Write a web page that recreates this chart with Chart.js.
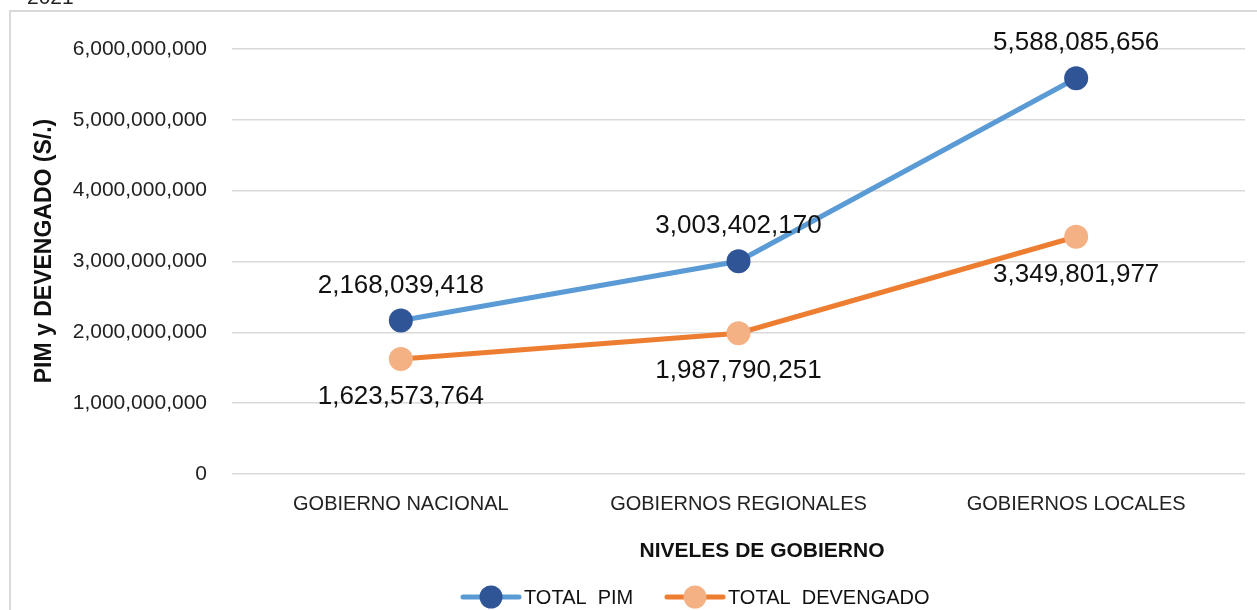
<!DOCTYPE html>
<html lang="es">
<head>
<meta charset="utf-8">
<title>PIM y Devengado por nivel de gobierno</title>
<script src="https://cdn.jsdelivr.net/npm/chart.js@4.4.1/dist/chart.umd.min.js"></script>
<style>
  html, body { margin: 0; padding: 0; background: #fff; }
  #wrap { width: 1257px; height: 610px; position: relative; overflow: hidden; }
</style>
</head>
<body>
<div id="wrap"><canvas id="nivelesChart" width="1257" height="610"></canvas></div>
<script>
// ---- Data ----
const niveles = ["GOBIERNO NACIONAL", "GOBIERNOS REGIONALES", "GOBIERNOS LOCALES"];
const totalPim = [2168039418, 3003402170, 5588085656];
const totalDevengado = [1623573764, 1987790251, 3349801977];
const yTicks = [0, 1000000000, 2000000000, 3000000000, 4000000000, 5000000000, 6000000000];

const FONT = "'Liberation Sans', Arial, sans-serif";
const fmt = n => n.toLocaleString("en-US");

// ---- Extra drawing: frame, year, value labels, legend, x title ----
const decorations = {
  id: "decorations",
  beforeDraw(chart) {
    const ctx = chart.ctx;
    ctx.save();
    ctx.strokeStyle = "#d9d9d9";
    ctx.lineWidth = 2;
    ctx.beginPath();
    ctx.moveTo(10, 620);
    ctx.lineTo(10, 11);
    ctx.lineTo(1270, 11);
    ctx.stroke();

    ctx.fillStyle = "#222";
    ctx.font = "21px " + FONT;
    ctx.textAlign = "left";
    ctx.textBaseline = "alphabetic";
    ctx.fillText("2021", 27, 4);
    ctx.restore();
  },
  afterDatasetsDraw(chart) {
    const ctx = chart.ctx;
    ctx.save();
    ctx.font = "26px " + FONT;
    ctx.fillStyle = "#111";
    ctx.textAlign = "center";
    ctx.textBaseline = "middle";
    chart.data.datasets.forEach((ds, i) => {
      const meta = chart.getDatasetMeta(i);
      const shift = i === 0 ? -35 : 38;
      meta.data.forEach((pt, j) => {
        ctx.fillText(fmt(ds.data[j]), pt.x, pt.y + shift);
      });
    });
    ctx.restore();
  },
  afterDraw(chart) {
    const ctx = chart.ctx;
    ctx.save();

    // x axis title
    ctx.font = "bold 21px " + FONT;
    ctx.fillStyle = "#111";
    ctx.textAlign = "center";
    ctx.textBaseline = "middle";
    ctx.fillText("NIVELES DE GOBIERNO", 762, 551);

    // y axis title, a little above the plot centre
    ctx.translate(45, 251);
    ctx.rotate(-Math.PI / 2);
    ctx.font = "bold 23px " + FONT;
    ctx.fillText("PIM y DEVENGADO (S/.)", 0, 0);
    ctx.setTransform(1, 0, 0, 1, 0, 0);

    // legend
    const items = [
      { x: 463, ds: chart.data.datasets[0] },
      { x: 667, ds: chart.data.datasets[1] }
    ];
    const y = 597;
    items.forEach(it => {
      ctx.strokeStyle = it.ds.borderColor;
      ctx.lineWidth = 5;
      ctx.lineCap = "round";
      ctx.beginPath();
      ctx.moveTo(it.x, y);
      ctx.lineTo(it.x + 56, y);
      ctx.stroke();
      ctx.fillStyle = it.ds.pointBackgroundColor;
      ctx.beginPath();
      ctx.arc(it.x + 28, y, 11.5, 0, Math.PI * 2);
      ctx.fill();
      ctx.fillStyle = "#111";
      ctx.font = "20px " + FONT;
      ctx.textAlign = "left";
      ctx.fillText(it.ds.label, it.x + 61, y + 1);
    });
    ctx.restore();
  }
};

// ---- Chart ----
new Chart(document.getElementById("nivelesChart"), {
  type: "line",
  data: {
    labels: niveles,
    datasets: [
      {
        label: "TOTAL  PIM",
        data: totalPim,
        borderColor: "#5b9bd5",
        backgroundColor: "#5b9bd5",
        borderWidth: 5,
        tension: 0,
        pointRadius: 12,
        pointHoverRadius: 12,
        pointBorderWidth: 0,
        pointBackgroundColor: "#2f5597",
        pointBorderColor: "#2f5597"
      },
      {
        label: "TOTAL  DEVENGADO",
        data: totalDevengado,
        borderColor: "#ed7d31",
        backgroundColor: "#ed7d31",
        borderWidth: 5,
        tension: 0,
        pointRadius: 12,
        pointHoverRadius: 12,
        pointBorderWidth: 0,
        pointBackgroundColor: "#f4b183",
        pointBorderColor: "#f4b183"
      }
    ]
  },
  options: {
    responsive: false,
    animation: false,
    layout: { padding: { top: 49, right: 9, left: 0, bottom: 0 } },
    plugins: {
      legend: { display: false },
      tooltip: { enabled: false }
    },
    scales: {
      x: {
        offset: true,
        grid: { display: false, drawTicks: false },
        border: { display: false },
        ticks: { color: "#222", font: { family: FONT, size: 20 }, padding: 18, maxRotation: 0 },
        afterFit: s => { s.height = 136; }
      },
      y: {
        min: 0,
        max: 6000000000,
        afterBuildTicks: s => { s.ticks = yTicks.map(v => ({ value: v })); },
        grid: { color: "#d9d9d9", lineWidth: 1.5, drawTicks: false },
        border: { display: false },
        ticks: { color: "#222", font: { family: FONT, size: 21 }, padding: 25, callback: v => fmt(v) },
        afterFit: s => { s.width = 232; }
      }
    }
  },
  plugins: [decorations]
});
</script>
</body>
</html>
